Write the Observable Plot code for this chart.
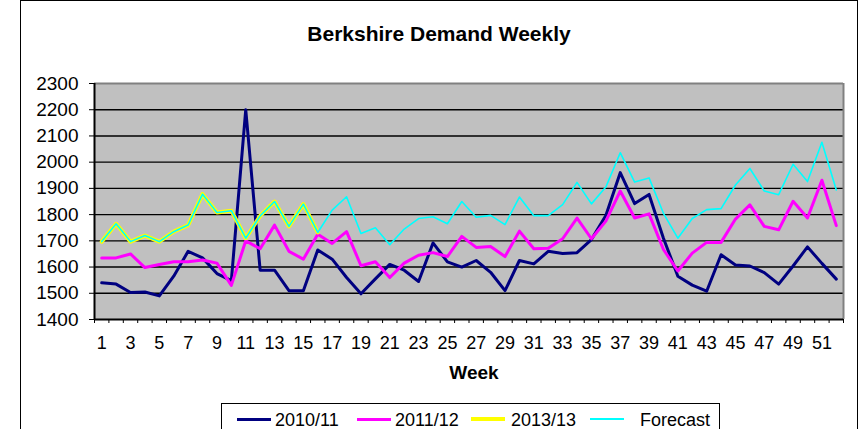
<!DOCTYPE html>
<html>
<head>
<meta charset="utf-8">
<script src="https://cdn.jsdelivr.net/npm/d3@7"></script>
<script src="https://cdn.jsdelivr.net/npm/@observablehq/plot@0.6"></script>
<style>
  body { margin: 0; background: #fff; font-family: "Liberation Sans", Arial, sans-serif; }
  #wrap { position: relative; width: 861px; height: 429px; overflow: hidden; background: #fff; }
  #border { position: absolute; left: 20px; top: 0; width: 838px; height: 470px; border: 1px solid #000; box-sizing: border-box; }
  #title { position: absolute; left: 20px; width: 838px; top: 23px; text-align: center; font-weight: bold; font-size: 21px; line-height: 21px; color: #000; }
  #chart { position: absolute; left: 0; top: 50px; }
  #legend { position: absolute; left: 221px; top: 403px; width: 499px; height: 40px; border: 1px solid #000; box-sizing: border-box; background: #fff; }
  .lg-line { position: absolute; }
  .lg-text { position: absolute; font-size: 18px; line-height: 18px; color: #000; white-space: nowrap; }
</style>
</head>
<body>
<div id="wrap">
  <div id="border"></div>
  <div id="title">Berkshire Demand Weekly</div>
  <div id="chart"></div>
  <div id="legend"></div>
</div>
<script>
// ---- data ----
const weeks = [1,2,3,4,5,6,7,8,9,10,11,12,13,14,15,16,17,18,19,20,21,22,23,24,25,26,
               27,28,29,30,31,32,33,34,35,36,37,38,39,40,41,42,43,44,45,46,47,48,49,50,51,52];
const xTickLabels = [1,3,5,7,9,11,13,15,17,19,21,23,25,27,29,31,33,35,37,39,41,43,45,47,49,51];
const yTickLabels = [1400,1500,1600,1700,1800,1900,2000,2100,2200,2300];
const seriesNames = ["2010/11", "2011/12", "2013/13", "Forecast"];
const seriesColors = ["#000080", "#FF00FF", "#FFFF00", "#00FFFF"];

const demand2010 = [1540,1535,1503,1505,1490,1565,1660,1635,1575,1548,2200,1588,1588,1510,1510,1665,
                    1630,1560,1498,1555,1610,1588,1545,1692,1620,1600,1625,1580,1510,1625,1612,1660,
                    1652,1655,1705,1797,1960,1842,1877,1710,1565,1531,1508,1647,1608,1604,1579,1535,
                    1604,1677,1614,1554];
const demand2011 = [1635,1635,1650,1598,1610,1620,1620,1627,1615,1530,1700,1670,1760,1660,1630,1725,
                    1690,1735,1605,1620,1560,1615,1645,1655,1640,1717,1675,1678,1640,1737,1670,1672,
                    1708,1787,1708,1775,1890,1787,1803,1667,1585,1653,1694,1694,1783,1837,1755,1742,
                    1851,1787,1931,1758];
const demand2013 = [1697,1765,1697,1720,1697,1735,1760,1878,1808,1815,1710,1795,1850,1755,1840,1732];
const forecast   = [1697,1765,1697,1720,1697,1735,1760,1878,1808,1815,1710,1795,1850,1755,1840,1732,
                    1817,1868,1728,1750,1685,1745,1785,1792,1765,1850,1790,1797,1762,1867,1796,1796,
                    1838,1923,1841,1905,2036,1924,1940,1805,1710,1785,1819,1823,1913,1976,1890,1876,
                    1992,1926,2076,1894];

// ---- build tables ----
const toRows = (vals) => vals.map((v, i) => ({week: weeks[i], value: v}));
const rows2010 = toRows(demand2010);
const rows2011 = toRows(demand2011);
const rows2013 = toRows(demand2013);
const rowsFc = toRows(forecast);
const boundaries = [0, ...weeks].map(w => w + 0.5);
const yMin = d3.min(yTickLabels), yMax = d3.max(yTickLabels);
const xMin = weeks[0] - 0.5, xMax = weeks[weeks.length - 1] + 0.5;

const chart = Plot.plot({
  width: 861,
  height: 350,
  marginLeft: 94,
  marginRight: 18,
  marginTop: 33,
  marginBottom: 81,
  style: { fontFamily: "'Liberation Sans', Arial, sans-serif", fontSize: "18px", color: "#000", background: "transparent", overflow: "visible" },
  x: { domain: [xMin, xMax], axis: null },
  y: { domain: [yMin, yMax], axis: null },
  marks: [
    Plot.frame({ fill: "#C0C0C0", stroke: null }),
    Plot.ruleY(yTickLabels.filter(v => v > yMin && v < yMax), { stroke: "#000", strokeWidth: 1.4 }),
    Plot.ruleY([yMax], { stroke: "#808080", strokeWidth: 2 }),
    Plot.ruleX([xMax], { stroke: "#808080", strokeWidth: 2 }),
    Plot.line(rows2010, { x: "week", y: "value", stroke: seriesColors[0], strokeWidth: 3 }),
    Plot.line(rows2011, { x: "week", y: "value", stroke: seriesColors[1], strokeWidth: 3 }),
    Plot.line(rows2013, { x: "week", y: "value", stroke: seriesColors[2], strokeWidth: 4 }),
    Plot.line(rowsFc, { x: "week", y: "value", stroke: seriesColors[3], strokeWidth: 1.6 }),
    Plot.ruleX([xMin], { stroke: "#000", strokeWidth: 2 }),
    Plot.ruleY([yMin], { stroke: "#000", strokeWidth: 2 }),
    Plot.axisY({ ticks: yTickLabels, tickSize: 5, tickPadding: 11, tickFormat: d => String(d), label: null, fontSize: 19 }),
    Plot.axisX({ ticks: boundaries, tickSize: 4, tickFormat: () => "", label: null }),
    Plot.axisX({ ticks: xTickLabels, tickSize: 0, tickPadding: 17, tickFormat: d => String(d), label: null, fontSize: 18 }),
    Plot.text(["Week"], { frameAnchor: "bottom", dy: 59, dx: 5, fontWeight: "bold", fontSize: 19 })
  ]
});
document.getElementById("chart").appendChild(chart);

// ---- legend ----
const legend = document.getElementById("legend");
const legendLineX = [237, 357, 471, 590];
const legendTextX = [275, 395, 511, 640];
const legendLineW = [3, 3, 4, 1.6];
seriesNames.forEach((name, i) => {
  const ln = document.createElement("div");
  ln.className = "lg-line";
  ln.style.left = (legendLineX[i] - 222) + "px";
  ln.style.width = "34px";
  ln.style.height = legendLineW[i] + "px";
  ln.style.top = (15 - legendLineW[i] / 2) + "px";
  ln.style.background = seriesColors[i];
  legend.appendChild(ln);
  const tx = document.createElement("div");
  tx.className = "lg-text";
  tx.style.left = (legendTextX[i] - 222) + "px";
  tx.style.top = "7px";
  tx.textContent = name;
  legend.appendChild(tx);
});
</script>
</body>
</html>
